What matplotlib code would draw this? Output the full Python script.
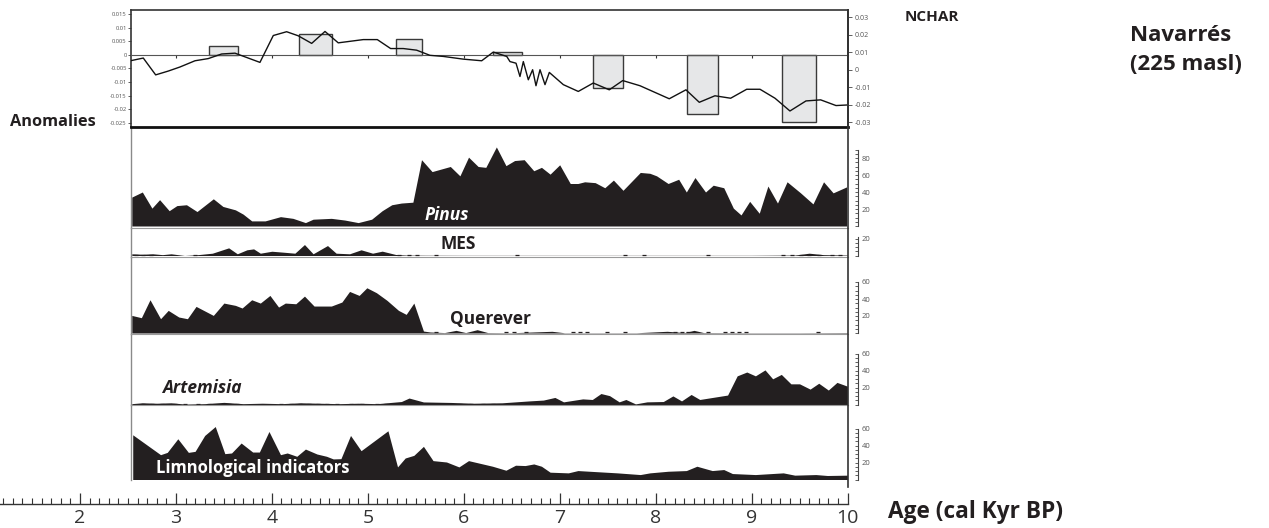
import numpy as np
import matplotlib
matplotlib.use('Agg')
import matplotlib.pyplot as plt
from matplotlib.ticker import FixedLocator

plt.rcParams['font.family'] = ['Open Sans', 'DejaVu Sans']

# ---- datos ----
# anomalias (linea) y NCHAR (barras) del panel superior
anom_edad = [2.539, 2.660, 2.789, 2.920, 3.042, 3.199, 3.337, 3.477, 3.616, 3.876,
             4.015, 4.154, 4.275, 4.415, 4.554, 4.692, 4.953, 5.099, 5.238, 5.370,
             5.509, 5.648, 5.787, 5.995, 6.187, 6.308, 6.448, 6.482, 6.545, 6.586,
             6.621, 6.673, 6.718, 6.753, 6.795, 6.847, 6.892, 7.038, 7.194, 7.350,
             7.517, 7.657, 7.837, 8.142, 8.316, 8.455, 8.618, 8.782, 8.949, 9.088,
             9.244, 9.400, 9.567, 9.720, 9.880, 9.991]
anom_val = [-0.0021, -0.0012, -0.0074, -0.006, -0.0045, -0.0022, -0.0014, 0.0003, 0.0006, -0.0028,
            0.0071, 0.0085, 0.007, 0.0042, 0.0086, 0.0044, 0.0056, 0.0056, 0.0023, 0.0023,
            0.0017, -0.0002, -0.0006, -0.0016, -0.0022, 0.001, -0.0006, -0.0025, -0.0031, -0.008,
            -0.0025, -0.0092, -0.0055, -0.0114, -0.0055, -0.011, -0.0065, -0.011, -0.0135, -0.0104,
            -0.0129, -0.0095, -0.0114, -0.0162, -0.0129, -0.0175, -0.0151, -0.016, -0.0127, -0.0127,
            -0.016, -0.0207, -0.017, -0.0166, -0.0187, -0.0185]

nchar_ini = [3.348, 4.280, 5.294, 6.302, 7.344, 8.324, 9.314]
nchar_fin = [3.650, 4.623, 5.565, 6.610, 7.657, 8.647, 9.669]
nchar_val = [0.0032, 0.0076, 0.006, 0.001, -0.0123, -0.0219, -0.0247]

# polen (%)
pinus_edad = [2.54, 2.65, 2.75, 2.83, 2.93, 3.01, 3.11, 3.22, 3.39, 3.49, 3.62, 3.70, 3.79, 3.93,
              4.09, 4.22, 4.35, 4.43, 4.62, 4.76, 4.90, 5.04, 5.15, 5.25, 5.35, 5.47, 5.56, 5.67,
              5.86, 5.96, 6.05, 6.15, 6.23, 6.34, 6.44, 6.53, 6.63, 6.73, 6.81, 6.90, 7.00, 7.11,
              7.19, 7.26, 7.37, 7.47, 7.56, 7.66, 7.84, 7.94, 8.01, 8.13, 8.24, 8.32, 8.41, 8.52,
              8.60, 8.71, 8.81, 8.89, 8.98, 9.08, 9.17, 9.27, 9.37, 9.51, 9.64, 9.75, 9.85, 9.99]
pinus_val = [34, 40, 21, 31, 18, 24, 25, 17, 32, 23, 19, 14, 6, 6,
             11, 9, 4, 8, 9, 7, 4, 8, 18, 25, 27, 28, 78, 64,
             70, 59, 81, 70, 69, 93, 71, 77, 78, 65, 69, 61, 72, 50,
             50, 52, 51, 45, 54, 42, 63, 62, 59, 50, 55, 40, 57, 40,
             48, 45, 21, 13, 29, 15, 47, 27, 52, 39, 26, 52, 39, 46]

mes_edad = [2.54, 2.65, 2.76, 2.86, 2.95, 3.09, 3.23, 3.38, 3.55, 3.64,
            3.74, 3.81, 3.88, 4.00, 4.12, 4.24, 4.34, 4.43, 4.58, 4.67,
            4.81, 4.93, 5.05, 5.15, 5.29, 5.40, 5.60, 6.00, 7.00, 8.00,
            9.00, 9.45, 9.60, 9.75, 10.0]
mes_val = [2, 1.5, 2, 1, 2, 0, 1, 2.7, 9, 2,
           6.7, 7.8, 2.7, 5, 3.9, 2.7, 12.9, 2, 11.7, 2.7,
           2, 6.7, 2.7, 5.1, 1.2, 0.5, 0.3, 0.2, 0.2, 0.2,
           0.2, 0.5, 2.7, 1, 0.5]

querever_edad = [2.54, 2.64, 2.73, 2.84, 2.92, 3.03, 3.12, 3.21, 3.39, 3.50,
                 3.62, 3.69, 3.79, 3.88, 3.98, 4.07, 4.14, 4.25, 4.34, 4.44,
                 4.62, 4.73, 4.81, 4.91, 4.99, 5.09, 5.20, 5.32, 5.40, 5.48,
                 5.58, 5.65, 5.80, 5.92, 6.02, 6.14, 6.25, 6.50, 6.92, 7.05,
                 7.80, 8.12, 8.30, 8.40, 8.50, 9.00, 9.50, 10.0]
querever_val = [20.7, 18, 39.1, 16.8, 26.6, 18.8, 16.8, 31.3, 20.7, 35.2,
                32.5, 29.4, 39.1, 35.2, 44.2, 30.5, 35.2, 34.4, 43.4, 31.7,
                31.7, 36.4, 48.9, 44.2, 53.2, 47.4, 38.4, 26.6, 21.9, 35.2,
                2.3, 1.2, 0.5, 3.1, 0.5, 3.9, 0.5, 0.3, 2, 0.3,
                0.3, 2, 0.5, 3.1, 0.5, 0.3, 0.3, 0.5]

artemisia_edad = [2.54, 2.65, 2.80, 2.95, 3.10, 3.30, 3.50, 3.70, 3.90, 4.10,
                  4.30, 4.50, 4.70, 4.90, 5.10, 5.25, 5.35, 5.43, 5.58, 5.87,
                  6.10, 6.40, 6.68, 6.83, 6.95, 7.04, 7.24, 7.34, 7.43, 7.52,
                  7.62, 7.69, 7.79, 7.91, 8.08, 8.18, 8.27, 8.37, 8.46, 8.75,
                  8.85, 8.95, 9.04, 9.14, 9.22, 9.31, 9.41, 9.50, 9.61, 9.70,
                  9.80, 9.89, 10.0]
artemisia_val = [1, 2, 1.5, 2, 0.5, 1, 2.5, 1, 1.5, 1,
                 2, 1.5, 1, 1.5, 1, 2.5, 3.5, 7.6, 3, 2.4,
                 1.5, 2, 4.2, 5.2, 8.3, 3.1, 6.6, 5.9, 12.9, 10.4,
                 3.1, 5.9, 0.7, 3.1, 3.5, 10.1, 4.2, 11.8, 5.9, 11.1,
                 33.7, 38.2, 33.7, 40.7, 30.2, 35.4, 24.3, 24.3, 18.1, 25,
                 17, 26, 21.5]

limno_edad = [2.55, 2.84, 2.91, 3.02, 3.13, 3.20, 3.30, 3.41, 3.51, 3.58,
              3.68, 3.80, 3.87, 3.97, 4.09, 4.16, 4.26, 4.35, 4.47, 4.57,
              4.64, 4.72, 4.82, 4.93, 5.21, 5.31, 5.39, 5.48, 5.58, 5.68,
              5.82, 5.95, 6.05, 6.30, 6.44, 6.54, 6.64, 6.73, 6.81, 6.90,
              7.09, 7.19, 7.31, 7.60, 7.84, 7.94, 8.13, 8.32, 8.43, 8.59,
              8.71, 8.80, 9.04, 9.33, 9.45, 9.67, 9.79, 10.0]
limno_val = [52.6, 29.2, 31.9, 47.9, 31.9, 33.1, 51.8, 62.3, 30.4, 31.2,
             42.9, 32.3, 32.3, 56.5, 29.2, 31.2, 27.3, 35.8, 30, 27.3,
             24.2, 24.5, 51.8, 33.9, 57.3, 14.8, 25.3, 28.4, 39, 22.2,
             20.6, 14.8, 22.2, 15.6, 10.9, 16.8, 16.4, 18.3, 15.6, 8.6,
             7.8, 10.5, 9.7, 7.8, 5.8, 7.8, 9.7, 10.5, 15.6, 10.5,
             11.7, 7, 5.8, 7.8, 5.1, 5.8, 4.7, 5.1]

# presencias (taxones raros, marcados con guiones)
mes_raros = [2.58, 2.66, 2.74, 3.20, 5.33, 5.43, 5.51, 5.71, 6.56, 7.68, 7.88, 8.55,
             9.33, 9.42, 9.51, 9.60, 9.70, 9.84, 9.92]
querever_raros = [5.71, 6.44, 6.52, 6.65, 7.14, 7.21, 7.28, 7.49, 7.68, 8.20, 8.27, 8.34,
                  8.55, 8.72, 8.80, 8.87, 8.94, 9.69]
artemisia_raros = [2.66, 2.75, 2.85, 2.99, 3.09, 3.23, 3.35, 3.55, 3.64, 4.10, 4.20, 4.29,
                   4.39, 4.48, 4.58, 4.68, 4.82, 4.94, 5.10, 5.19, 5.96, 6.08, 6.20, 6.30, 6.54]

edad_ticks = [2, 3, 4, 5, 6, 7, 8, 9, 10]
anom_ticks = [-0.025, -0.02, -0.015, -0.01, -0.005, 0, 0.005, 0.01, 0.015]
anom_labels = ['-0.025', '-0.02', '-0.015', '-0.01', '-0.005', '0', '0.005', '0.01', '0.015']
nchar_ticks = [-0.03, -0.02, -0.01, 0, 0.01, 0.02, 0.03]
nchar_labels = ['-0.03', '-0.02', '-0.01', '0', '0.01', '0.02', '0.03']

# ---- figura ----
W, H = 1269, 528
fig = plt.figure(figsize=(W / 100, H / 100), dpi=100)

NEGRO = '#231f20'
GRIS = '#444444'
XMIN, XMAX = 2.532, 10.005


def caja(x0, y0, x1, y1):
    # caja en pixeles -> fraccion de figura
    return [x0 / W, 1 - y1 / H, (x1 - x0) / W, (y1 - y0) / H]


def texto(x, y, s, color=NEGRO, **kw):
    fig.text(x / W, 1 - y / H, s, va='center', ha='left', color=color, **kw)


# Panel superior: anomalias + NCHAR
ax = fig.add_axes(caja(131, 10, 848, 127))
ax.set_xlim(XMIN, XMAX)
ax.set_ylim(-0.0266, 0.0165)
anchos = np.array(nchar_fin) - np.array(nchar_ini)
ax.bar(nchar_ini, nchar_val, width=anchos, align='edge', color='#e6e7e8',
       edgecolor='#3a3a3a', linewidth=1, zorder=2)
ax.plot(anom_edad, anom_val, color='#111111', linewidth=1, zorder=3)
ax.spines['bottom'].set_position(('data', 0))
ax.spines['bottom'].set_color('#555555')
ax.spines['bottom'].set_linewidth(0.8)
for s in ['top', 'left', 'right']:
    ax.spines[s].set_color('#333333')
    ax.spines[s].set_linewidth(1.2)
ax.set_xticks(edad_ticks[1:-1])
ax.tick_params(axis='x', length=2, width=0.8, color='#333333', labelbottom=False)
ax.set_yticks(anom_ticks)
ax.set_yticklabels(anom_labels)
ax.tick_params(axis='y', labelsize=4.2, length=2, width=0.6, color=GRIS,
               labelcolor='#555555', pad=1)

tw = ax.twinx()
tw.set_ylim(-0.0328, 0.0343)
tw.set_yticks(nchar_ticks)
tw.set_yticklabels(nchar_labels)
tw.tick_params(axis='y', labelsize=5, length=3, width=0.6, color=GRIS,
               labelcolor='#555555', pad=2)
for s in ['top', 'left', 'bottom']:
    tw.spines[s].set_visible(False)
tw.spines['right'].set_color('#333333')
tw.spines['right'].set_linewidth(1.2)

# Paneles de polen (0.85 px por %)
paneles = [
    (127, 228, 226.0, pinus_edad, pinus_val, None, 90, [20, 40, 60, 80]),
    (228, 257, 255.5, mes_edad, mes_val, mes_raros, 22, [20]),
    (257, 333.5, 333.0, querever_edad, querever_val, querever_raros, 60, [20, 40, 60]),
    (333.5, 405, 404.5, artemisia_edad, artemisia_val, artemisia_raros, 60, [20, 40, 60]),
    (405, 480, 479.5, limno_edad, limno_val, None, 60, [20, 40, 60]),
]
for i, (y0, y1, cero, edad, val, raros, tope, mayores) in enumerate(paneles):
    pa = fig.add_axes(caja(131, y0, 848, y1))
    pa.set_facecolor('none')
    pa.fill_between(edad, val, 0, color=NEGRO, linewidth=0)
    if raros is not None:
        pa.plot(raros, [0.8] * len(raros), linestyle='none', marker='_',
                markersize=3, markeredgewidth=0.9, color=NEGRO)
    pa.set_xlim(XMIN, XMAX)
    pa.set_ylim(-(y1 - cero) / 0.85, (cero - y0) / 0.85)
    pa.set_xticks([])
    pa.spines['bottom'].set_visible(False)
    pa.spines['left'].set_color('#8a8a8a')
    pa.spines['left'].set_linewidth(1)
    if i == 0:
        pa.spines['top'].set_color('#111111')
        pa.spines['top'].set_linewidth(2)
    else:
        pa.spines['top'].set_color('#9a9a9a')
        pa.spines['top'].set_linewidth(0.8)
    pa.spines['right'].set_position(('outward', 7.5))
    pa.spines['right'].set_bounds(0, tope)
    pa.spines['right'].set_color(GRIS)
    pa.spines['right'].set_linewidth(0.8)
    pa.yaxis.tick_right()
    pa.set_yticks(mayores)
    pa.yaxis.set_minor_locator(FixedLocator(np.arange(0, tope + 1, 5)))
    pa.tick_params(axis='y', which='both', direction='in', length=2.5, width=0.6,
                   color=GRIS, labelcolor='#555555', labelsize=5.5, pad=2.5)

# marco derecho comun
marco = fig.add_axes(caja(131, 10, 848, 487), zorder=10)
marco.set_facecolor('none')
marco.set_xticks([])
marco.set_yticks([])
for s in ['top', 'left', 'bottom']:
    marco.spines[s].set_visible(False)
marco.spines['right'].set_color('#333333')
marco.spines['right'].set_linewidth(1.2)

# eje de edad
ae = fig.add_axes(caja(0, 503, 848, 503.5))
ae.set_facecolor('none')
ae.set_xlim(10.005 - 848 / 95.94, 10.005)
ae.set_yticks([])
for s in ['top', 'left', 'right']:
    ae.spines[s].set_visible(False)
ae.spines['bottom'].set_color('#333333')
ae.spines['bottom'].set_linewidth(1)
ae.set_xticks(edad_ticks)
ae.xaxis.set_minor_locator(FixedLocator(np.arange(1.2, 10.0, 0.1)))
ae.tick_params(axis='x', which='major', direction='in', length=8, width=0.9,
               color='#333333', labelsize=14, labelcolor='#333333', pad=4)
ae.tick_params(axis='x', which='minor', direction='in', length=4.3, width=0.8,
               color='#333333')

# textos
texto(425, 215, 'Pinus', fontsize=12.5, fontweight='bold', style='italic', color='white')
texto(440, 244, 'MES', fontsize=12.5, fontweight='bold')
texto(450, 319, 'Querever', fontsize=12.5, fontweight='bold')
texto(162, 388, 'Artemisia', fontsize=12.5, fontweight='bold', style='italic')
texto(156, 468, 'Limnological indicators', fontsize=12, fontweight='bold', color='white')
texto(905, 17, 'NCHAR', fontsize=11, fontweight='bold')
texto(1130, 36, 'Navarrés', fontsize=16, fontweight='bold')
texto(1130, 64, '(225 masl)', fontsize=16, fontweight='bold')
texto(10, 122, 'Anomalies', fontsize=11.8, fontweight='bold')
texto(888, 512, 'Age (cal Kyr BP)', fontsize=16.3, fontweight='bold')

fig.savefig('out.png', dpi=100)
